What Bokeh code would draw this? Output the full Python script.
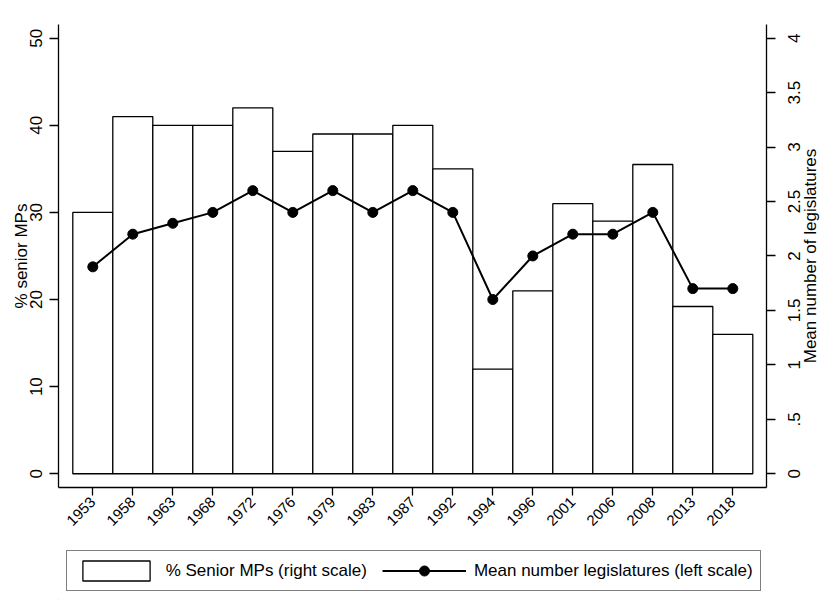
import math
from bokeh.plotting import figure
from bokeh.layouts import column, row
from bokeh.models import (Range1d, LinearAxis, FixedTicker, Legend, LegendItem, Label)
from bokeh.embed import file_html
from bokeh.resources import INLINE

years = ["1953", "1958", "1963", "1968", "1972", "1976", "1979", "1983", "1987",
         "1992", "1994", "1996", "2001", "2006", "2008", "2013", "2018"]
pct_senior = [30, 41, 40, 40, 42, 37, 39, 39, 40, 35, 12, 21, 31, 29, 35.5, 19.2, 16]
mean_legis = [1.9, 2.2, 2.3, 2.4, 2.6, 2.4, 2.6, 2.4, 2.6, 2.4, 1.6, 2.0, 2.2, 2.2, 2.4, 1.7, 1.7]
left_ticks = [0, 10, 20, 30, 40, 50]
right_ticks = [0, 0.5, 1, 1.5, 2, 2.5, 3, 3.5, 4]
right_tick_labels = ["0", ".5", "1", "1.5", "2", "2.5", "3", "3.5", "4"]
left_title = "% senior MPs"
right_title = "Mean number of legislatures"
legend_labels = ["% Senior MPs (right scale)", "Mean number legislatures (left scale)"]

FONT = "Liberation Sans"
xs = list(range(len(years)))

left_range = Range1d(-1.58, 51.57)
right_range = Range1d(-0.1264, 4.1256)

# main chart: frame at x 58..766, y 24..487
p = figure(width=776, height=544, output_backend="svg", toolbar_location=None,
           title=None,
           x_range=Range1d(-0.8575, 16.8425), y_range=left_range,
           min_border_left=58, min_border_right=10, min_border_top=24,
           min_border_bottom=57)
p.extra_y_ranges = {"right": right_range}
p.outline_line_color = None
p.xgrid.visible = False
p.ygrid.visible = False
p.background_fill_color = "white"
p.border_fill_color = "white"

bar_style = dict(fill_color="white", line_color="black", line_width=1.3)
line_style = dict(line_color="black", line_width=2)
pt_style = dict(size=10, color="black")

p.vbar(x=xs, top=pct_senior, bottom=0, width=1.0, **bar_style)
p.line(xs, mean_legis, y_range_name="right", **line_style)
p.scatter(xs, mean_legis, y_range_name="right", **pt_style)


def style_axis(ax, tick_out, size, standoff):
    ax.major_label_text_font = FONT
    ax.major_label_text_font_size = size
    ax.major_label_text_color = "black"
    ax.major_tick_out = tick_out
    ax.major_tick_in = 0
    ax.minor_tick_out = 0
    ax.minor_tick_in = 0
    ax.axis_line_color = "black"
    ax.axis_line_width = 1.3
    ax.major_tick_line_color = "black"
    ax.major_tick_line_width = 1.3
    ax.major_label_standoff = standoff
    ax.axis_label_text_font = FONT
    ax.axis_label_text_font_size = "17px"
    ax.axis_label_text_font_style = "normal"
    ax.axis_label_text_color = "black"


# x axis
xa = p.xaxis[0]
xa.ticker = FixedTicker(ticks=xs)
xa.major_label_overrides = {i: y for i, y in enumerate(years)}
xa.major_label_orientation = math.pi / 4
style_axis(xa, 8, "15px", 4)

# left axis
ya = p.yaxis[0]
ya.ticker = FixedTicker(ticks=left_ticks)
ya.major_label_orientation = "vertical"
style_axis(ya, 9, "17px", 7)
ya.axis_label = left_title
ya.axis_label_standoff = -3

# right axis line + ticks (its labels are drawn by the strip on the right)
ra = LinearAxis(y_range_name="right")
ra.ticker = FixedTicker(ticks=right_ticks)
style_axis(ra, 9, "0px", 0)
ra.major_label_text_alpha = 0
p.add_layout(ra, "right")

# strip at the right: tick labels of the right scale + its title (bottom to top)
tf = figure(width=53, height=544, output_backend="svg", toolbar_location=None,
            title=None, x_axis_type=None,
            x_range=Range1d(0, 29), y_range=right_range,
            min_border_left=24, min_border_right=0, min_border_top=24, min_border_bottom=57)
tf.outline_line_color = None
tf.xgrid.visible = False
tf.ygrid.visible = False
tf.border_fill_color = "white"
tf.background_fill_color = "white"
ta = tf.yaxis[0]
ta.ticker = FixedTicker(ticks=right_ticks)
ta.major_label_overrides = {t: s for t, s in zip(right_ticks, right_tick_labels)}
ta.major_label_orientation = "vertical"
style_axis(ta, 0, "17px", 0)
ta.axis_line_color = None
ta.major_tick_line_color = None
tf.add_layout(Label(x=10, y=(right_range.start + right_range.end) / 2, text=right_title,
                    angle=math.pi / 2, text_font=FONT, text_font_size="17px",
                    text_color="black", text_align="center", text_baseline="middle"))

# legend strip below the chart
lf = figure(width=829, height=56, output_backend="svg", toolbar_location=None,
            title=None, x_axis_type=None, y_axis_type=None,
            x_range=Range1d(0, 1), y_range=Range1d(0, 1),
            min_border_left=58, min_border_right=63, min_border_top=0, min_border_bottom=0)
lf.outline_line_color = None
lf.xgrid.visible = False
lf.ygrid.visible = False
lf.border_fill_color = "white"
lf.background_fill_color = "white"
# off-screen sample glyphs that only feed the legend swatches
r_bar = lf.vbar(x=[-10], top=[-5], bottom=[-6], width=1.0, **bar_style)
r_line = lf.line([-10, -9], [-10, -10], **line_style)
r_pt = lf.scatter([-10], [-10], **pt_style)

legend = Legend(items=[LegendItem(label=legend_labels[0], renderers=[r_bar]),
                       LegendItem(label=legend_labels[1], renderers=[r_line, r_pt])],
                orientation="horizontal", location=(7.7, 9), glyph_width=84, glyph_height=25,
                label_standoff=8, spacing=15, padding=7, margin=0,
                border_line_color="black", border_line_width=1.3,
                label_text_font=FONT, label_text_font_size="17px", label_text_color="black",
                background_fill_color="white", background_fill_alpha=1.0)
lf.add_layout(legend, "center")

layout = column(row(p, tf, spacing=0), lf, spacing=0)
open("out.html", "w").write(file_html(layout, INLINE))
